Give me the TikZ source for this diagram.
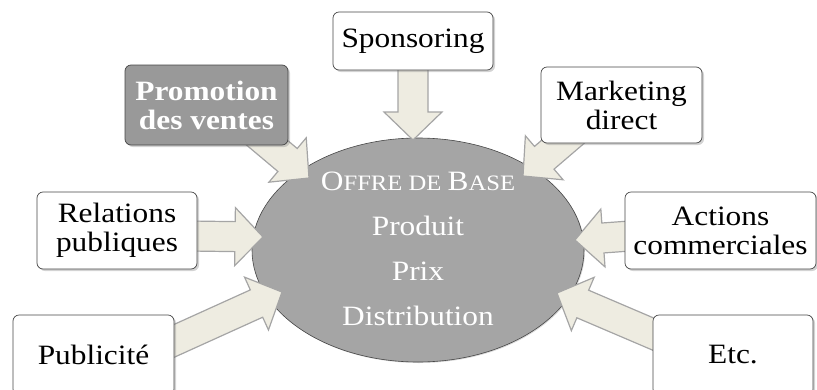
\documentclass[tikz,border=0pt]{standalone}
\usepackage{fontspec}
\setmainfont{Liberation Serif}[FakeStretch=1.12]
\usetikzlibrary{calc,shadows}
\definecolor{arrfill}{RGB}{238,236,225}
\definecolor{arrline}{RGB}{165,165,165}
\definecolor{ellfill}{RGB}{165,165,165}
\definecolor{promofill}{RGB}{153,153,153}
\definecolor{boxline}{RGB}{70,70,70}
\tikzset{
  box/.style={draw=boxline, line width=0.7pt, fill=white, rounded corners=6pt,
    align=center, inner sep=0pt, font=\fontsize{28}{29}\selectfont,
    drop shadow={opacity=0.35, shadow xshift=2pt, shadow yshift=-2pt}},
  promobox/.style={box, fill=promofill, text=white, font=\fontsize{28}{29}\selectfont\bfseries},
  blockarr/.style={fill=arrfill, draw=arrline, line width=1.2pt, line join=miter},
  core/.style={ellipse, draw=boxline, line width=0.6pt, fill=ellfill, text=white,
    align=center, font=\fontsize{28}{45}\selectfont, inner sep=0pt}
}
\newcommand\blockarrow[2]{%
  \coordinate (H) at ($(#2)!28pt!(#1)$);
  \draw[blockarr] ($(#1)!15pt!90:(#2)$) -- ($(H)!15pt!90:(#2)$) -- ($(H)!29pt!90:(#2)$)
    -- (#2) -- ($(H)!29pt!-90:(#2)$) -- ($(H)!15pt!-90:(#2)$) -- ($(#1)!15pt!-90:(#2)$) -- cycle;
}
\usetikzlibrary{shapes.geometric}
\begin{document}
\begin{tikzpicture}[x=1pt,y=-1pt]
\useasboundingbox (0,0) rectangle (817,389);
\clip (0,0) rectangle (817,389);
% central ellipse
\node[core, minimum width=332pt, minimum height=224pt,
  drop shadow={opacity=0.3, shadow xshift=1pt, shadow yshift=-1pt}] (core) at (418,250) {};
\node[text=white, align=center, font=\fontsize{28}{45}\selectfont] (coretext) at (418,249)
  {O{\fontsize{22}{22}\selectfont FFRE DE }B{\fontsize{22}{22}\selectfont ASE}\\Produit\\Prix\\Distribution};
% arrow endpoints
\coordinate (sS) at (413,60);  \coordinate (tS) at (413,140);
\coordinate (sP) at (240,120); \coordinate (tP) at (309,178);
\coordinate (sM) at (600,110); \coordinate (tM) at (523,176);
\coordinate (sR) at (190,236); \coordinate (tR) at (263,237);
\coordinate (sA) at (630,236); \coordinate (tA) at (575,240);
\coordinate (sU) at (165,345); \coordinate (tU) at (282,292);
\coordinate (sE) at (660,337); \coordinate (tE) at (557,293);
\blockarrow{sS}{tS}
\blockarrow{sP}{tP}
\blockarrow{sM}{tM}
\blockarrow{sR}{tR}
\blockarrow{sA}{tA}
\blockarrow{sU}{tU}
\blockarrow{sE}{tE}
% boxes
\node[box, minimum width=160pt, minimum height=58pt] (spons) at (413,41) {Sponsoring};
\node[promobox, minimum width=163pt, minimum height=80pt] (promo) at (206.5,105) {Promotion\\des ventes};
\node[box, minimum width=161pt, minimum height=76pt] (market) at (621.5,105) {Marketing\\direct};
\node[box, minimum width=160pt, minimum height=77pt] (rel) at (117,230.5) {Relations\\publiques};
\node[box, minimum width=191pt, minimum height=77pt] (act) at (720.5,230.5) {Actions\\commerciales};
\node[box, minimum width=161pt, minimum height=80pt] (pub) at (93.5,355) {Publicité};
\node[box, minimum width=160pt, minimum height=80pt] (etc) at (733,355) {Etc.};
\end{tikzpicture}
\end{document}
